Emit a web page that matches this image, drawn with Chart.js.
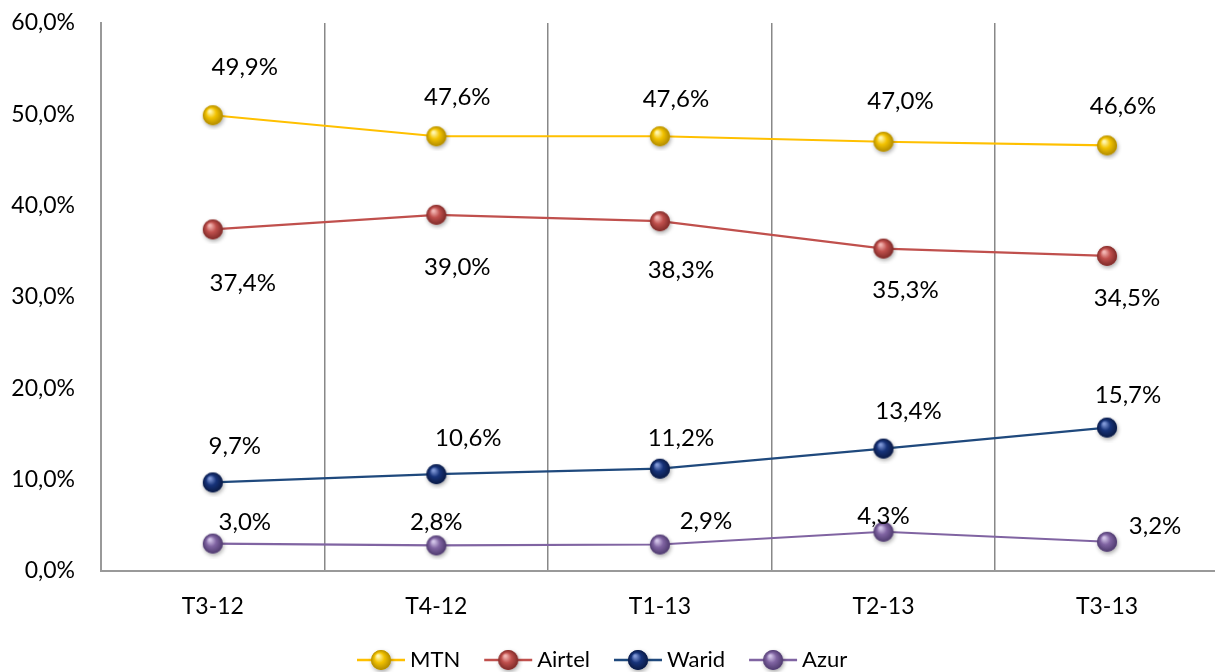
<!DOCTYPE html>
<html>
<head>
<meta charset="utf-8">
<script src="https://cdn.jsdelivr.net/npm/chart.js@4.4.1/dist/chart.umd.min.js"></script>
<style>
html,body{margin:0;padding:0;background:#fff;overflow:hidden;}
#wrap{position:relative;width:1231px;height:672px;}
</style>
</head>
<body>
<div id="wrap"><canvas id="c"></canvas></div>
<script>
const categories = ['T3-12','T4-12','T1-13','T2-13','T3-13'];
const seriesNames = ['MTN','Airtel','Warid','Azur'];
const mtn = [49.9, 47.6, 47.6, 47.0, 46.6];
const airtel = [37.4, 39.0, 38.3, 35.3, 34.5];
const warid = [9.7, 10.6, 11.2, 13.4, 15.7];
const azur = [3.0, 2.8, 2.9, 4.3, 3.2];
const yTicks = [0, 10, 20, 30, 40, 50, 60];

const FONT = 'Lato, "Open Sans", sans-serif';
const fmt = v => v.toFixed(1).replace('.', ',') + '%';

// label offsets (dx, dy) from each point
const labelOffsets = [
  [[32,-48],[21,-39],[16,-37],[17,-40],[16,-39]],
  [[30,54],[21,52],[21,49],[22,42],[20,42]],
  [[22,-36],[32,-36],[21,-30],[25,-37],[21,-32]],
  [[32,-21],[0,-23],[46,-23],[0,-15],[48,-16]]
];

function sphere(base, light, dark) {
  const s = 30, c = document.createElement('canvas');
  c.width = s; c.height = s;
  const g = c.getContext('2d');
  const cx = s/2, cy = s/2, r = 10;
  g.save();
  g.shadowColor = 'rgba(0,0,0,0.35)';
  g.shadowBlur = 4; g.shadowOffsetX = 1; g.shadowOffsetY = 2;
  g.beginPath(); g.arc(cx, cy, r, 0, Math.PI*2);
  g.fillStyle = base; g.fill();
  g.restore();
  const grad = g.createRadialGradient(cx-3, cy-4, 1, cx, cy, r);
  grad.addColorStop(0, light);
  grad.addColorStop(0.45, base);
  grad.addColorStop(1, dark);
  g.beginPath(); g.arc(cx, cy, r, 0, Math.PI*2);
  g.fillStyle = grad; g.fill();
  return c;
}

const styles = [
  {line:'#FFC000', img: sphere('#F2C200', '#FFF6B0', '#B08A00')},
  {line:'#C0504D', img: sphere('#C0504D', '#F2B5B2', '#7E2A28')},
  {line:'#1F497D', img: sphere('#17337A', '#7F97D6', '#0A1A44')},
  {line:'#8064A2', img: sphere('#8064A2', '#D2C4E8', '#4E3A6E')}
];
const values = [mtn, airtel, warid, azur];

const labelsPlugin = {
  id: 'pointLabels',
  afterDatasetsDraw(chart) {
    const ctx = chart.ctx;
    ctx.save();
    ctx.font = '24px ' + FONT;
    ctx.fillStyle = '#000';
    ctx.textAlign = 'center';
    ctx.textBaseline = 'middle';
    chart.data.datasets.forEach((ds, i) => {
      const meta = chart.getDatasetMeta(i);
      meta.data.forEach((pt, j) => {
        const o = labelOffsets[i][j];
        ctx.fillText(fmt(ds.data[j]), pt.x + o[0], pt.y + o[1]);
      });
    });
    ctx.restore();
  }
};

const legendPlugin = {
  id: 'customLegend',
  afterDraw(chart) {
    const ctx = chart.ctx;
    ctx.save();
    ctx.font = '22px ' + FONT;
    ctx.textBaseline = 'middle';
    ctx.textAlign = 'left';
    const y = 660;
    let x = 357;
    seriesNames.forEach((name, i) => {
      ctx.strokeStyle = styles[i].line;
      ctx.lineWidth = 2.5;
      ctx.beginPath(); ctx.moveTo(x, y); ctx.lineTo(x + 48, y); ctx.stroke();
      const img = styles[i].img;
      ctx.drawImage(img, x + 24 - img.width/2, y - img.height/2);
      ctx.fillStyle = '#000';
      ctx.fillText(name, x + 53, y);
      x += 53 + ctx.measureText(name).width + 24;
    });
    ctx.restore();
  }
};

new Chart(document.getElementById('c'), {
  type: 'line',
  data: {
    labels: categories,
    datasets: seriesNames.map((n, i) => ({
      label: n,
      data: values[i],
      borderColor: styles[i].line,
      backgroundColor: styles[i].line,
      borderWidth: 2.2,
      pointStyle: styles[i].img,
      pointRadius: 10,
      pointHoverRadius: 10,
      tension: 0,
      fill: false
    }))
  },
  options: {
    responsive: true,
    maintainAspectRatio: false,
    animation: false,
    events: [],
    layout: {padding: {top: 23, right: 0, left: 0, bottom: 0}},
    plugins: {legend: {display: false}, tooltip: {enabled: false}},
    scales: {
      x: {
        offset: true,
        grid: {offset: true, color: '#888888', lineWidth: 1.5, drawTicks: false},
        border: {color: '#999999', width: 2},
        ticks: {font: {family: FONT, size: 23}, color: '#000', padding: 22},
        afterFit(s) { s.height = 101; s.paddingLeft = 0; s.paddingRight = 0; }
      },
      y: {
        min: 0, max: 60,
        afterBuildTicks(s) { s.ticks = yTicks.map(v => ({value: v})); },
        grid: {display: false, drawTicks: false},
        border: {color: '#999999', width: 2},
        ticks: {font: {family: FONT, size: 23}, color: '#000', padding: 26, callback: v => fmt(v)},
        afterFit(s) { s.width = 101; s.paddingTop = 0; s.paddingBottom = 0; }
      }
    }
  },
  plugins: [labelsPlugin, legendPlugin]
});
</script>
</body>
</html>
